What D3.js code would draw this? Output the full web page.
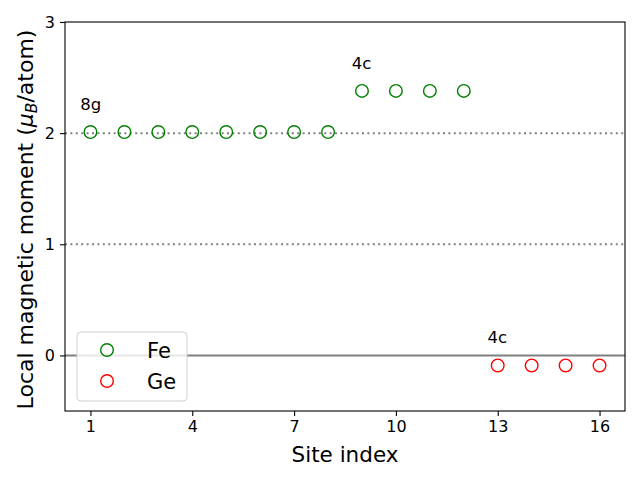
<!DOCTYPE html>
<html><head><meta charset="utf-8">
<script src="https://cdn.jsdelivr.net/npm/d3@7"></script>
<style>body{margin:0;background:#fff}svg{display:block;font-family:"DejaVu Sans",sans-serif}.tk text{font-size:16px;fill:#000}</style>
</head><body>
<svg id="c" width="640" height="480"></svg>
<script>
const feSites = [1,2,3,4,5,6,7,8,9,10,11,12];
const feMoments = [2.01,2.01,2.01,2.01,2.01,2.01,2.01,2.01,2.38,2.38,2.38,2.38];
const geSites = [13,14,15,16];
const geMoments = [-0.09,-0.09,-0.09,-0.09];
const xTicks = [1,4,7,10,13,16];
const yTicks = [0,1,2,3];
const siteLabels = [{t:"8g", x:0.7, y:2.21},{t:"4c", x:8.7, y:2.58},{t:"4c", x:12.7, y:0.11}];
const dottedLevels = [1,2];
const legendItems = [{name:"Fe", color:"green"},{name:"Ge", color:"red"}];

const svg = d3.select("#c");
const L=65, R=625, T=22, B=411;
const x = d3.scaleLinear().domain([0.25,16.75]).range([L,R]);
const y = d3.scaleLinear().domain([-0.5,3]).range([B,T]);

// reference lines
svg.selectAll(".dl").data(dottedLevels).enter().append("line")
  .attr("x1",L).attr("x2",R).attr("y1",d=>y(d)).attr("y2",d=>y(d))
  .attr("stroke","#808080").attr("stroke-width",2).attr("stroke-dasharray","2,3.4");
svg.append("line").attr("x1",L).attr("x2",R).attr("y1",y(0)).attr("y2",y(0))
  .attr("stroke","#808080").attr("stroke-width",2);

// points
function pts(xs, ys, color){
  svg.append("g").selectAll("circle").data(xs.map((d,i)=>[d,ys[i]])).enter().append("circle")
    .attr("cx",d=>x(d[0])).attr("cy",d=>y(d[1])).attr("r",6.3)
    .attr("fill","none").attr("stroke",color).attr("stroke-width",1.4);
}
pts(feSites, feMoments, "green");
pts(geSites, geMoments, "red");

// site labels
svg.selectAll(".sl").data(siteLabels).enter().append("text")
  .attr("x",d=>x(d.x)).attr("y",d=>y(d.y)).attr("font-size","16.5px").attr("fill","#000").text(d=>d.t);

// axes
const xa = svg.append("g").attr("class","tk").attr("transform",`translate(0,${B})`)
  .call(d3.axisBottom(x).tickValues(xTicks).tickFormat(d3.format("d")).tickSize(5).tickPadding(5));
const ya = svg.append("g").attr("class","tk").attr("transform",`translate(${L},0)`)
  .call(d3.axisLeft(y).tickValues(yTicks).tickFormat(d3.format("d")).tickSize(5).tickPadding(5));
[xa,ya].forEach(a=>{
  a.attr("font-size",16).attr("font-family","DejaVu Sans");
  a.select(".domain").remove();
  a.selectAll("line").attr("stroke","#000").attr("stroke-width",1.1);
});
svg.append("rect").attr("x",L).attr("y",T).attr("width",R-L).attr("height",B-T)
  .attr("fill","none").attr("stroke","#000").attr("stroke-width",1.1);

// axis labels
svg.append("text").attr("x",(L+R)/2).attr("y",462).attr("text-anchor","middle")
  .attr("font-size","21.5px").text("Site index");
const yl = svg.append("text").attr("transform",`translate(33,${(T+B)/2+3}) rotate(-90)`)
  .attr("text-anchor","middle").attr("font-size","22px");
yl.append("tspan").text("Local magnetic moment (");
yl.append("tspan").attr("font-style","italic").text("μ");
yl.append("tspan").attr("font-style","italic").attr("font-size","15.5px").attr("dy",4).text("B");
yl.append("tspan").attr("dy",-4).text("/atom)");

// legend
const lg = svg.append("g");
lg.append("rect").attr("x",77).attr("y",332).attr("width",110).attr("height",69).attr("rx",4)
  .attr("fill","rgba(255,255,255,0.8)").attr("stroke","#d0d0d0").attr("stroke-width",1);
legendItems.forEach((d,i)=>{
  const cy = 350 + i*31;
  lg.append("circle").attr("cx",107).attr("cy",cy).attr("r",6.3).attr("fill","none")
    .attr("stroke",d.color).attr("stroke-width",1.4);
  lg.append("text").attr("x",147).attr("y",cy+7.5).attr("font-size","21px").text(d.name);
});
</script>
</body></html>
